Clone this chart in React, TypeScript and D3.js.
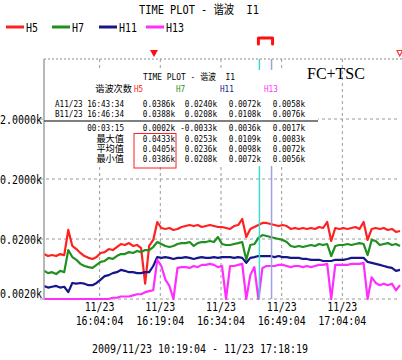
import React from 'react';
import * as d3 from 'd3';

const W = 402;
const H = 360;

const seriesNames = ['H5', 'H7', 'H11', 'H13'];
const seriesColors = ['#ff2020', '#1f8f1f', '#16168a', '#ff2eff'];

const windowStart = '2009-11-23T15:50:19';
const windowEnd = '2009-11-23T17:18:19';
const sampleStepMinutes = 1;

// values in k (thousands), one sample per minute from windowStart
const h5 = [
  0.0112, 0.0104, 0.0108, 0.0104, 0.0112, 0.0108, 0.0283, 0.0153, 0.0136, 0.0117,
  0.0104, 0.0097, 0.0093, 0.0100, 0.0117, 0.0121, 0.0136, 0.0131, 0.0147, 0.0165,
  0.0159, 0.0171, 0.0153, 0.0159, 0.0141, 0.0036, 0.0153, 0.0193, 0.0384, 0.0305,
  0.0294, 0.0305, 0.0283, 0.0294, 0.0317, 0.0329, 0.0342, 0.0329, 0.0342, 0.0317,
  0.0329, 0.0342, 0.0329, 0.0317, 0.0317, 0.0305, 0.0294, 0.0329, 0.0342, 0.0431,
  0.0216, 0.0294, 0.0317, 0.0342, 0.0370, 0.0370, 0.0356, 0.0342, 0.0329, 0.0342,
  0.0329, 0.0294, 0.0305, 0.0294, 0.0305, 0.0294, 0.0305, 0.0294, 0.0317, 0.0305,
  0.0384, 0.0185, 0.0305, 0.0294, 0.0305, 0.0294, 0.0305, 0.0317, 0.0294, 0.0384,
  0.0193, 0.0294, 0.0305, 0.0294, 0.0305, 0.0283, 0.0294, 0.0262, 0.0272,
];
const h7 = [
  0.0059, 0.0054, 0.0056, 0.0052, 0.0059, 0.0056, 0.0131, 0.0100, 0.0090, 0.0077,
  0.0071, 0.0068, 0.0066, 0.0074, 0.0083, 0.0086, 0.0097, 0.0093, 0.0104, 0.0112,
  0.0112, 0.0121, 0.0117, 0.0126, 0.0121, 0.0131, 0.0131, 0.0147, 0.0178, 0.0165,
  0.0153, 0.0147, 0.0153, 0.0165, 0.0171, 0.0171, 0.0178, 0.0153, 0.0171, 0.0178,
  0.0178, 0.0185, 0.0178, 0.0216, 0.0165, 0.0159, 0.0159, 0.0165, 0.0171, 0.0178,
  0.0090, 0.0159, 0.0165, 0.0208, 0.0233, 0.0224, 0.0216, 0.0208, 0.0200, 0.0193,
  0.0178, 0.0153, 0.0147, 0.0153, 0.0147, 0.0153, 0.0159, 0.0153, 0.0165, 0.0159,
  0.0165, 0.0104, 0.0153, 0.0159, 0.0159, 0.0165, 0.0159, 0.0165, 0.0171, 0.0165,
  0.0108, 0.0193, 0.0185, 0.0159, 0.0165, 0.0171, 0.0159, 0.0165, 0.0153,
];
const h11 = [
  0.0033, 0.0031, 0.0032, 0.0033, 0.0031, 0.0032, 0.0026, 0.0037, 0.0036, 0.0037,
  0.0036, 0.0034, 0.0034, 0.0037, 0.0042, 0.0048, 0.0050, 0.0054, 0.0056, 0.0061,
  0.0059, 0.0056, 0.0056, 0.0054, 0.0054, 0.0056, 0.0056, 0.0071, 0.0100, 0.0097,
  0.0100, 0.0097, 0.0093, 0.0097, 0.0097, 0.0100, 0.0097, 0.0093, 0.0097, 0.0100,
  0.0097, 0.0097, 0.0100, 0.0097, 0.0100, 0.0100, 0.0100, 0.0097, 0.0100, 0.0097,
  0.0080, 0.0097, 0.0100, 0.0104, 0.0104, 0.0104, 0.0104, 0.0100, 0.0104, 0.0100,
  0.0100, 0.0097, 0.0097, 0.0097, 0.0093, 0.0093, 0.0090, 0.0090, 0.0090, 0.0086,
  0.0086, 0.0086, 0.0090, 0.0090, 0.0090, 0.0093, 0.0097, 0.0097, 0.0097, 0.0097,
  0.0083, 0.0080, 0.0077, 0.0074, 0.0071, 0.0068, 0.0066, 0.0059, 0.0061,
];
const h13 = [
  0.0020, 0.0020, 0.0020, 0.0020, 0.0020, 0.0020, 0.0020, 0.0020, 0.0020, 0.0020,
  0.0020, 0.0020, 0.0020, 0.0020, 0.0020, 0.0020, 0.0020, 0.0021, 0.0021, 0.0022,
  0.0022, 0.0022, 0.0023, 0.0024, 0.0024, 0.0026, 0.0027, 0.0028, 0.0090, 0.0071,
  0.0042, 0.0033, 0.0020, 0.0066, 0.0068, 0.0068, 0.0066, 0.0071, 0.0068, 0.0074,
  0.0074, 0.0077, 0.0074, 0.0068, 0.0071, 0.0020, 0.0071, 0.0071, 0.0074, 0.0077,
  0.0020, 0.0050, 0.0068, 0.0020, 0.0066, 0.0071, 0.0071, 0.0071, 0.0074, 0.0074,
  0.0071, 0.0068, 0.0071, 0.0071, 0.0068, 0.0071, 0.0068, 0.0071, 0.0074, 0.0074,
  0.0077, 0.0020, 0.0074, 0.0074, 0.0074, 0.0074, 0.0077, 0.0077, 0.0077, 0.0080,
  0.0020, 0.0046, 0.0037, 0.0034, 0.0036, 0.0034, 0.0036, 0.0028, 0.0034,
];

const yTickValues = [2, 0.2, 0.02, 0.002];
const yTickLabels = ['2.0000k', '0.2000k', '0.0200k', '0.0020k'];
const xTickTimes = ['16:04:04', '16:19:04', '16:34:04', '16:49:04', '17:04:04'];
const xTickDate = '11/23';
const cursorATime = '16:43:34';
const cursorBTime = '16:46:34';
const eventMarkerTime = '16:17:30';
const rangeLabel = '2009/11/23 10:19:04 - 11/23 17:18:19';
const chartTitle = 'TIME PLOT - 谐波  I1';
const noteLabel = 'FC+TSC';
const tableHeaderLabel = '谐波次数';
const tableRowLabels = ['A11/23 16:43:34', 'B11/23 16:46:34', '00:03:15', '最大值', '平均值', '最小值'];
const rowA = ['0.0386k', '0.0240k', '0.0072k', '0.0058k'];
const rowB = ['0.0388k', '0.0208k', '0.0108k', '0.0076k'];
const rowDiff = ['0.0002k', '-0.0033k', '0.0036k', '0.0017k'];
const rowMax = ['0.0433k', '0.0253k', '0.0109k', '0.0083k'];
const rowAvg = ['0.0405k', '0.0236k', '0.0098k', '0.0072k'];
const rowMin = ['0.0386k', '0.0208k', '0.0072k', '0.0056k'];

const MONO = "'DejaVu Sans Mono','Liberation Mono','Noto Sans CJK SC',monospace";

const unitLen = (s: string) =>
  Array.from(s).reduce((a, c) => a + (c.charCodeAt(0) > 0x2e80 ? 2 : 1), 0);

function MText(props: {
  x: number; y: number; text: string; cw: number; size: number;
  anchor?: 'start' | 'middle' | 'end'; fill?: string;
}) {
  const { x, y, text, cw, size, anchor = 'start', fill = '#000' } = props;
  const len = unitLen(text) * cw;
  const x0 = anchor === 'end' ? x - len : anchor === 'middle' ? x - len / 2 : x;
  return (
    <text
      x={x0}
      y={y}
      fontSize={size}
      fill={fill}
      fontFamily={MONO}
      textLength={len}
      lengthAdjust="spacingAndGlyphs"
      style={{ whiteSpace: 'pre' }}
    >
      {text}
    </text>
  );
}

const dayTime = (hms: string) => new Date(`2009-11-23T${hms}`);

export default function App() {
  const t0 = new Date(windowStart);
  const t1 = new Date(windowEnd);
  const left = 44, right = 400, top = 59, bottom = 299;
  const x = d3.scaleTime().domain([t0, t1]).range([left, right]);
  const y = d3.scaleLog().domain([0.002, 20]).range([bottom, top]).clamp(true);

  const sampleTime = (i: number) => new Date(t0.getTime() + i * sampleStepMinutes * 60000);
  const line = d3.line<number>().x((_, i) => x(sampleTime(i))).y((d) => y(d));
  const series = [h5, h7, h11, h13];

  const xa = x(dayTime(cursorATime));
  const xb = x(dayTime(cursorBTime));
  const xm = x(dayTime(eventMarkerTime));

  const colRight = [175, 217, 261, 305];
  const rowsY = [106.5, 116.5, 130.5, 141.5, 151.5, 161.5];
  const tableRows = [rowA, rowB, rowDiff, rowMax, rowAvg, rowMin];
  const tcw = 4.6;
  const tfs = 9.5;
  const mcw = 6;
  const mfs = 12;
  const xfs = 11.5;

  const legendX = [6, 52, 99, 146];

  return (
    <svg width={W} height={H} style={{ position: 'absolute', left: 0, top: 0 }}>
      <rect x={0} y={0} width={W} height={H} fill="#fff" />
      <defs>
        <clipPath id="plotClip">
          <rect x={left} y={top - 2} width={right - left + 2} height={bottom - top + 4} />
        </clipPath>
      </defs>

      {/* title */}
      <MText x={139} y={14} text={chartTitle} cw={mcw} size={mfs} />

      {/* legend */}
      {seriesNames.map((n, i) => (
        <g key={n}>
          <line x1={legendX[i]} x2={legendX[i] + 18} y1={27} y2={27} stroke={seriesColors[i]} strokeWidth={3} />
          <MText x={legendX[i] + 20} y={31.5} text={n} cw={mcw} size={mfs} />
        </g>
      ))}

      {/* horizontal grid */}
      {yTickValues.map((v) => (
        <line key={v} x1={40} x2={right} y1={y(v)} y2={y(v)} stroke="#9a9a9a" strokeDasharray="3,3" />
      ))}
      {/* vertical grid */}
      {xTickTimes.map((t) => (
        <line key={t} x1={x(dayTime(t))} x2={x(dayTime(t))} y1={top} y2={bottom} stroke="#9a9a9a" strokeDasharray="3,3" />
      ))}
      {/* top border */}
      <line x1={left} x2={right + 2} y1={top} y2={top} stroke="#8a8a8a" strokeDasharray="2,2" />

      {/* series */}
      <g clipPath="url(#plotClip)">
        {series.map((s, i) => (
          <path key={i} d={line(s) || ''} fill="none" stroke={seriesColors[i]} strokeWidth={2.2} strokeLinejoin="round" />
        ))}
      </g>

      {/* cursors */}
      <line x1={xa} x2={xa} y1={top} y2={bottom} stroke="#40d8d0" strokeWidth={1.5} />
      <line x1={xb} x2={xb} y1={top} y2={bottom} stroke="#a0a0e0" strokeWidth={1.5} />

      {/* left axis */}
      <line x1={left} x2={left} y1={top} y2={bottom + 1} stroke="#a0a0a0" strokeWidth={1.5} />

      {/* y labels */}
      {yTickValues.map((v, i) => (
        <MText key={v} x={42} y={y(v) + 4.5 - (i === yTickValues.length - 1 ? 6 : 0)} text={yTickLabels[i]} cw={mcw} size={mfs} anchor="end" />
      ))}

      {/* x labels */}
      {xTickTimes.map((t) => (
        <g key={t}>
          <MText x={x(dayTime(t))} y={310.5} text={xTickDate} cw={mcw} size={xfs} anchor="middle" />
          <MText x={x(dayTime(t))} y={324.5} text={t} cw={mcw} size={xfs} anchor="middle" />
        </g>
      ))}
      <MText x={200} y={352.5} text={rangeLabel} cw={mcw} size={mfs} anchor="middle" />

      {/* markers */}
      <path d={`M${xm - 4},50 L${xm + 4},50 L${xm},57 Z`} fill="#ff1010" />
      <path d={`M${right - 3},50.5 L${right + 2.5},50.5 L${right - 0.25},56 Z`} fill="#fff" stroke="#ff3030" strokeWidth={1.2} />
      <path d={`M${xa - 1},44 V38 H${xb + 1} V44`} fill="none" stroke="#ff1010" strokeWidth={3} strokeLinejoin="round" strokeLinecap="round" />

      {/* table overlay */}
      <rect x={45} y={70} width={273} height={96} fill="#fff" />
      <MText x={143} y={79.5} text={chartTitle} cw={tcw} size={tfs} />
      <MText x={132} y={91.5} text={tableHeaderLabel} cw={tcw} size={tfs} anchor="end" />
      {seriesNames.map((n, i) => (
        <MText key={n} x={colRight[i] - 41} y={91.5} text={n} cw={tcw} size={tfs} fill={seriesColors[i]} />
      ))}
      {tableRowLabels.map((lab, r) => (
        <g key={lab}>
          <MText x={124} y={rowsY[r]} text={lab} cw={tcw} size={tfs} anchor="end" />
          {tableRows[r].map((v, c) => (
            <MText key={c} x={colRight[c]} y={rowsY[r]} text={v} cw={tcw} size={tfs} anchor="end" />
          ))}
        </g>
      ))}
      <line x1={44} x2={318} y1={121} y2={121} stroke="#555" strokeWidth={1.5} />
      <rect x={134} y={133.5} width={42} height={34.5} fill="none" stroke="#ff2020" strokeWidth={1} />

      <text x={307} y={79} fontFamily="'Liberation Serif','Times New Roman',serif" fontSize={16} fill="#000">
        {noteLabel}
      </text>
    </svg>
  );
}
